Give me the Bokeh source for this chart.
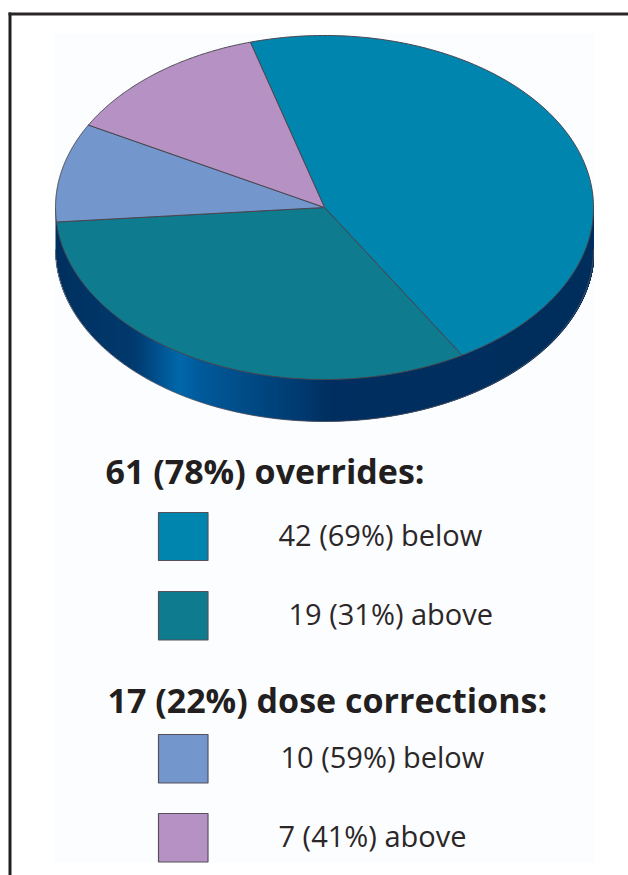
from math import pi, cos, sin
import numpy as np
from bokeh.plotting import figure
from bokeh.models import Range1d
from bokeh.core.properties import value
from bokeh.embed import file_html
from bokeh.resources import INLINE

# Data (shares of the drawn pie, in drawing order, clockwise)
slice_names = ["overrides below", "overrides above", "corrections below", "corrections above"]
slice_shares = [45.9, 32.2, 9.3, 12.6]
slice_colors = ["#0086AE", "#0E7B8E", "#7396CC", "#B592C3"]
start_angle_deg = 106.0

headings = ["61 (78%) overrides:", "17 (22%) dose corrections:"]
labels = ["42 (69%) below", "19 (31%) above", "10 (59%) below", "7 (41%) above"]

# Rim shading: fraction across the pie width, colour
rim_fracs = [0.0, 0.145, 0.177, 0.214, 0.229, 0.27, 0.362, 0.455, 0.51, 1.0]
rim_cols = ["#00305F", "#003A6E", "#004A85", "#0060A0", "#0068AA", "#005A9A", "#004A85", "#003A70", "#002F60", "#002E5C"]

W, H = 628, 875
OX, OY = 0, 0
CX, CY, RX, RY, DEPTH = 324, 207, 269, 172, 42


def hex2rgb(c):
    return np.array([int(c[i:i + 2], 16) for i in (1, 3, 5)], dtype=float)


p = figure(width=W, height=H, output_backend="svg", toolbar_location=None,
           x_range=Range1d(OX, OX + W), y_range=Range1d(OY + H, OY),
           min_border=0, outline_line_color=None, border_fill_color="white",
           background_fill_color="white")
p.xaxis.visible = False
p.yaxis.visible = False
p.xgrid.visible = False
p.ygrid.visible = False

# pale page panel and frame
p.quad(left=[54], right=[594.5], top=[33], bottom=[862], fill_color="#FCFDFE", line_color=None)
p.quad(left=[8], right=[11], top=[12], bottom=[OY + H], fill_color="#231F20", line_color=None)
p.quad(left=[8], right=[OX + W], top=[12], bottom=[15], fill_color="#2A2627", line_color=None)

# rim as thin vertical strips (each overlaps the next so no seams show)
xs_edges = np.arange(CX - RX, CX + RX + 1, 1.0)
fr = (xs_edges - (CX - RX)) / (2 * RX)
rgb = np.array([hex2rgb(c) for c in rim_cols])
strip_l, strip_r, strip_t, strip_b, strip_c = [], [], [], [], []
n_strips = len(xs_edges) - 1
for i in range(n_strips):
    xm = (xs_edges[i] + xs_edges[i + 1]) / 2
    u = np.sqrt(max(0, 1 - ((xm - CX) / RX) ** 2))
    col = [np.interp(fr[i], rim_fracs, rgb[:, k]) for k in range(3)]
    strip_l.append(xs_edges[i])
    strip_r.append(xs_edges[i + 1] + (1.5 if i < n_strips - 1 else 0))
    strip_t.append(CY)
    strip_b.append(CY + DEPTH + RY * u)
    strip_c.append("#%02X%02X%02X" % tuple(int(round(v)) for v in col))
p.quad(left=strip_l, right=strip_r, top=strip_t, bottom=strip_b, fill_color=strip_c, line_color=None)

# soft dark edge along the bottom of the rim
th_b = np.radians(np.linspace(180, 360, 240))
p.line(CX + RX * np.cos(th_b), CY + DEPTH - RY * np.sin(th_b), line_color="#55525E", line_width=0.8)

# top face: wedges computed from the shares
total = sum(slice_shares)
ang = start_angle_deg
wx, wy = [], []
for s in slice_shares:
    sweep = s / total * 360.0
    th = np.radians(np.linspace(ang, ang - sweep, 160))
    wx.append(np.concatenate([[CX], CX + RX * np.cos(th)]))
    wy.append(np.concatenate([[CY], CY - RY * np.sin(th)]))
    ang -= sweep
p.patches(wx, wy, fill_color=slice_colors, line_color="#4A4650", line_width=1.0, line_join="round")

# legend text
FONT = "Open Sans"
p.text(x=[105, 107], y=[470, 699], text=headings, text_font=value(FONT), text_font_style="bold",
       text_font_size="34px", text_color="#231F20", text_baseline="alphabetic")
p.text(x=[278, 288, 280, 278], y=[534, 613, 756, 835], text=labels, text_font=value(FONT),
       text_font_size="29px", text_color="#2B2729", text_baseline="alphabetic")

# legend swatches
p.quad(left=[158] * 4, right=[207.5] * 4, top=[512, 591, 734, 813], bottom=[560, 639.5, 782.5, 861.5],
       fill_color=slice_colors, line_color="#55505A", line_width=1.2)

open("out.html", "w").write(file_html(p, INLINE))
